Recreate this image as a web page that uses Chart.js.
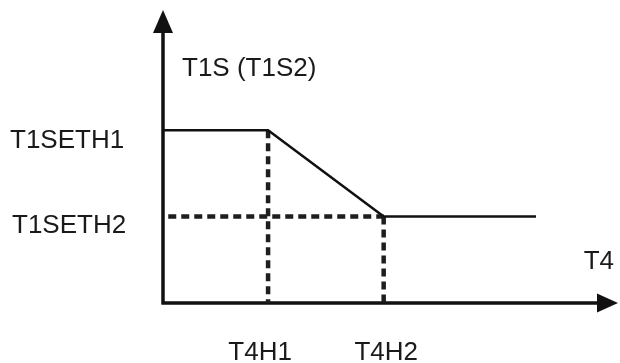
<!DOCTYPE html>
<html>
<head>
<meta charset="utf-8">
<script src="https://cdn.jsdelivr.net/npm/chart.js@4.4.1/dist/chart.umd.min.js"></script>
<style>
html,body{margin:0;padding:0;background:#fff;}
#wrap{width:620px;height:363px;position:relative;}
</style>
</head>
<body>
<div id="wrap"><canvas id="c" width="620" height="363"></canvas></div>
<script>
// Data (arbitrary schematic units)
const xTickValues = [10, 21];
const xTickLabels = ['T4H1', 'T4H2'];
const yTickValues = [20, 10];
const yTickLabels = ['T1SETH1', 'T1SETH2'];
const curveX = [0, 10, 21, 35.5];
const curveY = [20, 20, 10, 10];
const xAxisTitle = 'T4';
const yAxisTitle = 'T1S (T1S2)';
const xMax = 43.3;
const yMax = 33.9;

const pts = (xs, ys) => xs.map((x, i) => ({x, y: ys[i]}));

const dotted = {borderColor: '#1e1e1e', borderWidth: 4.5, borderDash: [8, 5], pointRadius: 0, fill: false, tension: 0, borderCapStyle: 'butt', order: 2};

const FONT = '26px "Liberation Sans", Arial, sans-serif';

const axesPlugin = {
  id: 'axesPlugin',
  beforeDatasetsDraw(chart) {
    const {ctx, scales: {x, y}} = chart;
    const x0 = x.getPixelForValue(0), y0 = y.getPixelForValue(0);
    const xEnd = x.getPixelForValue(xMax), yEnd = y.getPixelForValue(yMax);
    ctx.save();
    ctx.strokeStyle = '#111'; ctx.fillStyle = '#111';
    ctx.lineWidth = 3.5; ctx.lineCap = 'butt';
    ctx.beginPath();
    ctx.moveTo(x0, y0 + 1.5); ctx.lineTo(x0, yEnd + 20);
    ctx.moveTo(x0 - 1.5, y0); ctx.lineTo(xEnd - 18, y0);
    ctx.stroke();
    // arrow heads
    ctx.beginPath();
    ctx.moveTo(x0, yEnd); ctx.lineTo(x0 - 10, yEnd + 23); ctx.lineTo(x0 + 10, yEnd + 23); ctx.closePath(); ctx.fill();
    ctx.beginPath();
    ctx.moveTo(xEnd, y0); ctx.lineTo(xEnd - 21, y0 - 9.5); ctx.lineTo(xEnd - 21, y0 + 9.5); ctx.closePath(); ctx.fill();
    ctx.restore();
  },
  afterDraw(chart) {
    const {ctx, scales: {x, y}} = chart;
    ctx.save();
    ctx.font = FONT; ctx.fillStyle = '#1a1a1a'; ctx.textBaseline = 'alphabetic';
    const x0 = x.getPixelForValue(0), y0 = y.getPixelForValue(0);
    // y tick labels (cap tops sit on the level lines)
    ctx.textAlign = 'left';
    const yLeft = [10, 12], yDrop = [18, 16];
    yTickValues.forEach((v, i) => {
      ctx.fillText(yTickLabels[i], yLeft[i], y.getPixelForValue(v) + yDrop[i]);
    });
    // x tick labels
    ctx.textAlign = 'center';
    const xShift = [-8, 2.5];
    xTickValues.forEach((v, i) => {
      ctx.fillText(xTickLabels[i], x.getPixelForValue(v) + xShift[i], y0 + 57);
    });
    // axis titles
    ctx.textAlign = 'left';
    ctx.fillText(yAxisTitle, x0 + 19, 76);
    ctx.textAlign = 'right';
    ctx.fillText(xAxisTitle, 614, 269);
    ctx.restore();
  }
};

new Chart(document.getElementById('c'), {
  type: 'line',
  data: {
    datasets: [
      Object.assign({data: pts([xTickValues[0], xTickValues[0]], [yTickValues[0], 0])}, dotted),
      Object.assign({data: pts([xTickValues[1], xTickValues[1]], [yTickValues[1], 0])}, dotted),
      Object.assign({data: pts([0.5, xTickValues[1]], [yTickValues[1], yTickValues[1]])}, dotted),
      {data: pts(curveX, curveY), borderColor: '#111', borderWidth: 2.5, pointRadius: 0, fill: false, tension: 0, order: 1}
    ]
  },
  options: {
    responsive: false,
    animation: false,
    events: [],
    layout: {padding: {left: 163, right: 2, top: 10, bottom: 60}},
    plugins: {legend: {display: false}, tooltip: {enabled: false}},
    scales: {
      x: {type: 'linear', min: 0, max: xMax, display: false},
      y: {type: 'linear', min: 0, max: yMax, display: false}
    }
  },
  plugins: [axesPlugin]
});
</script>
</body>
</html>
